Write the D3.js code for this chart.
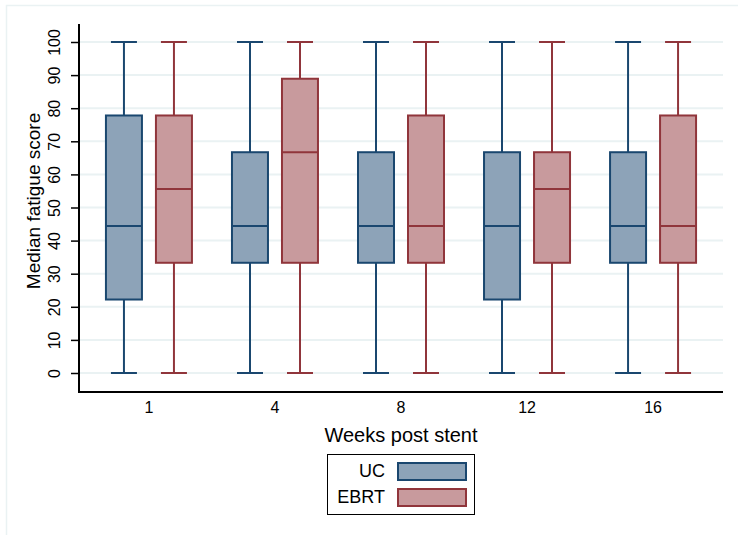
<!DOCTYPE html>
<html>
<head>
<meta charset="utf-8">
<script src="https://cdn.jsdelivr.net/npm/d3@7"></script>
<style>
  body { margin: 0; background: #fff; }
  text { font-family: "Liberation Sans", Arial, sans-serif; fill: #000; }
</style>
</head>
<body>
<div id="chart"></div>
<script>
// weeks post stent
var weeks = ["1", "4", "8", "12", "16"];
var groups = ["UC", "EBRT"];

// box stats per week: [min, q1, median, q3, max]
var ucStats = [
  [0, 22.2, 44.4, 77.8, 100],
  [0, 33.3, 44.4, 66.7, 100],
  [0, 33.3, 44.4, 66.7, 100],
  [0, 22.2, 44.4, 66.7, 100],
  [0, 33.3, 44.4, 66.7, 100]
];
var ebrtStats = [
  [0, 33.3, 55.6, 77.8, 100],
  [0, 33.3, 66.7, 88.9, 100],
  [0, 33.3, 44.4, 77.8, 100],
  [0, 33.3, 55.6, 66.7, 100],
  [0, 33.3, 44.4, 77.8, 100]
];
var yTicks = [0, 10, 20, 30, 40, 50, 60, 70, 80, 90, 100];

var strokeCol = { UC: "#1a476f", EBRT: "#90353b" };
var fillCol = { UC: "#8da3b8", EBRT: "#c89a9d" };

var width = 738, height = 535;
var plotLeft = 79, plotRight = 723, plotTop = 24, plotBottom = 392;

var svg = d3.select("#chart").append("svg")
  .attr("width", width)
  .attr("height", height);

// outer graph frame (partly cropped)
svg.append("rect")
  .attr("x", 6.5).attr("y", 5.5)
  .attr("width", 800).attr("height", 600)
  .attr("fill", "none")
  .attr("stroke", "#eaf2f3")
  .attr("stroke-width", 1.5);

var y = d3.scaleLinear().domain([0, 100]).range([373, 42]);

var x = d3.scaleBand().domain(weeks)
  .range([plotLeft, plotRight])
  .paddingOuter(0.055)
  .paddingInner(0);

var xSub = d3.scaleBand().domain(groups)
  .range([-43, 43])
  .paddingInner(0.28)
  .paddingOuter(0);

// gridlines
svg.append("g").selectAll("line")
  .data(yTicks)
  .enter().append("line")
  .attr("x1", plotLeft).attr("x2", plotRight)
  .attr("y1", function(d) { return y(d); })
  .attr("y2", function(d) { return y(d); })
  .attr("stroke", "#eaf2f3")
  .attr("stroke-width", 2);

// y axis
var yAxis = svg.append("g")
  .attr("transform", "translate(" + plotLeft + ",0)")
  .call(d3.axisLeft(y).tickValues(yTicks).tickSize(8).tickSizeOuter(0));
yAxis.attr("font-size", null).attr("font-family", null);
yAxis.select(".domain").remove();
yAxis.selectAll(".tick line").attr("stroke", "#000").attr("stroke-width", 1.5);
yAxis.selectAll(".tick text")
  .style("font-size", "16px")
  .attr("x", null).attr("dy", null)
  .attr("transform", "translate(-19,0) rotate(-90)")
  .attr("text-anchor", "middle");

svg.append("line")
  .attr("x1", plotLeft).attr("x2", plotLeft)
  .attr("y1", plotTop).attr("y2", plotBottom)
  .attr("stroke", "#000").attr("stroke-width", 2);

// x axis
svg.append("line")
  .attr("x1", plotLeft - 1).attr("x2", plotRight)
  .attr("y1", plotBottom).attr("y2", plotBottom)
  .attr("stroke", "#000").attr("stroke-width", 2);

svg.append("g").selectAll("text")
  .data(weeks)
  .enter().append("text")
  .attr("x", function(d) { return x(d) + x.bandwidth() / 2; })
  .attr("y", 413)
  .attr("text-anchor", "middle")
  .style("font-size", "16px")
  .text(function(d) { return d; });

// axis titles
svg.append("text")
  .attr("transform", "translate(40,201) rotate(-90)")
  .attr("text-anchor", "middle")
  .style("font-size", "19px")
  .text("Median fatigue score");

svg.append("text")
  .attr("x", (plotLeft + plotRight) / 2)
  .attr("y", 442)
  .attr("text-anchor", "middle")
  .style("font-size", "20px")
  .text("Weeks post stent");

// boxes
var rows = [];
weeks.forEach(function(w, i) {
  rows.push({ week: w, group: "UC", s: ucStats[i] });
  rows.push({ week: w, group: "EBRT", s: ebrtStats[i] });
});

var box = svg.append("g").selectAll("g.box")
  .data(rows)
  .enter().append("g")
  .attr("class", "box")
  .attr("transform", function(d) {
    return "translate(" + (x(d.week) + x.bandwidth() / 2 + xSub(d.group)) + ",0)";
  });

var bw = xSub.bandwidth();

// whiskers
box.append("line")
  .attr("x1", bw / 2).attr("x2", bw / 2)
  .attr("y1", function(d) { return y(d.s[4]); })
  .attr("y2", function(d) { return y(d.s[3]); })
  .attr("stroke", function(d) { return strokeCol[d.group]; })
  .attr("stroke-width", 2);
box.append("line")
  .attr("x1", bw / 2).attr("x2", bw / 2)
  .attr("y1", function(d) { return y(d.s[1]); })
  .attr("y2", function(d) { return y(d.s[0]); })
  .attr("stroke", function(d) { return strokeCol[d.group]; })
  .attr("stroke-width", 2);

// caps
[0, 4].forEach(function(k) {
  box.append("line")
    .attr("x1", bw / 2 - 13).attr("x2", bw / 2 + 13)
    .attr("y1", function(d) { return y(d.s[k]); })
    .attr("y2", function(d) { return y(d.s[k]); })
    .attr("stroke", function(d) { return strokeCol[d.group]; })
    .attr("stroke-width", 2);
});

box.append("rect")
  .attr("x", 0)
  .attr("width", bw)
  .attr("y", function(d) { return y(d.s[3]); })
  .attr("height", function(d) { return y(d.s[1]) - y(d.s[3]); })
  .attr("fill", function(d) { return fillCol[d.group]; })
  .attr("stroke", function(d) { return strokeCol[d.group]; })
  .attr("stroke-width", 2);

box.append("line")
  .attr("x1", 0).attr("x2", bw)
  .attr("y1", function(d) { return y(d.s[2]); })
  .attr("y2", function(d) { return y(d.s[2]); })
  .attr("stroke", function(d) { return strokeCol[d.group]; })
  .attr("stroke-width", 2);

// legend
var lg = svg.append("g").attr("transform", "translate(327,454)");
lg.append("rect")
  .attr("x", 0.5).attr("y", 0.5)
  .attr("width", 147).attr("height", 60)
  .attr("fill", "#fff")
  .attr("stroke", "#000")
  .attr("stroke-width", 1);

var item = lg.selectAll("g.item")
  .data(groups)
  .enter().append("g")
  .attr("class", "item")
  .attr("transform", function(d, i) { return "translate(0," + (i * 26) + ")"; });

item.append("rect")
  .attr("x", 71).attr("y", 9)
  .attr("width", 68).attr("height", 17)
  .attr("fill", function(d) { return fillCol[d]; })
  .attr("stroke", function(d) { return strokeCol[d]; })
  .attr("stroke-width", 2);

item.append("text")
  .attr("x", 58).attr("y", 23)
  .attr("text-anchor", "end")
  .style("font-size", "18px")
  .text(function(d) { return d; });
</script>
</body>
</html>
